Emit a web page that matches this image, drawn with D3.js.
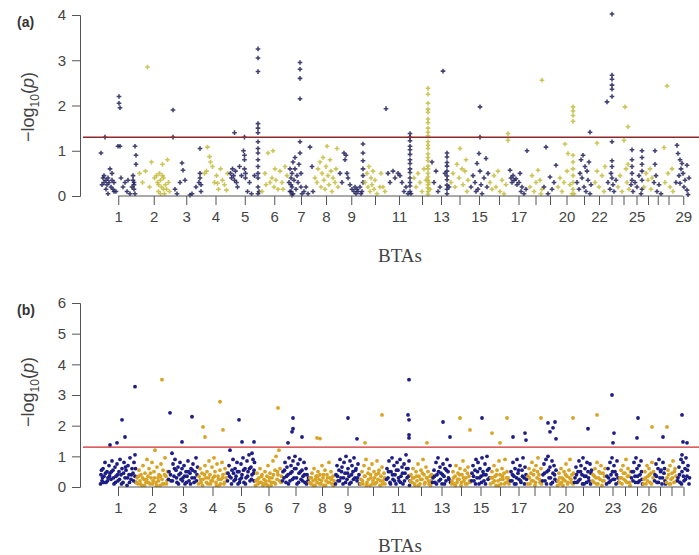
<!DOCTYPE html>
<html>
<head>
<meta charset="utf-8">
<script src="https://cdn.jsdelivr.net/npm/d3@7"></script>
<style>
  body { margin: 0; background: #fff; }
  .tick text { font-family: "Liberation Sans", Arial, sans-serif; font-size: 15px; fill: #444; }
  .tick line { stroke: #555; }
</style>
</head>
<body>
<script>
// chromosome lengths on the plotted position scale (panel a and panel b)
var chromLenA = [36.5,34.5,30.5,28,30.5,28.5,25,25,25.5,22,26,20,18,19,20,20,19,15,14,19,16,14,11,13,13,10,9.5,12,17.5];
var chromLenB = [36,32,30,29,28,27,27,26,25,26,24,22,19,20,19,20,17,15,15,17,18,14,13,12,12,11,12,11,13];

// which BTA numbers get a printed label
var labelsA = [1,2,3,4,5,6,7,8,9,11,13,15,17,20,22,25,29];
var labelsB = [1,2,3,4,5,6,7,8,9,11,13,15,17,20,23,26];

var yTicksA = [0,1,2,3,4];
var yTicksB = [0,1,2,3,4,5,6];
var threshold = 1.3;   // -log10(0.05)

// SNPs per chromosome: position within chromosome, -log10(p)  (pairs)
var snpA = [
  [1,.95, 2,.25, 3,.4, 4,.3, 4,.45, 5,1.3, 6,.35, 6,.15, 7,.25, 8,.05, 8,.4, 9,.3, 10,.6, 11,.2, 12,.35, 12,.5, 13,.15, 14,.3, 14,.1, 16,.1, 18,1.1, 19,2.2, 19,2.05, 20,1.95, 20,1.1, 21,.4, 23,.2, 25,.3, 27,.1, 28,.35, 30,.05, 32,.2, 33,.45, 33,.35, 34,.3, 34,.25, 34,.15, 35,.05, 35,1.1, 36,.9, 36,.7],
  [3,.5, 6,.3, 9,.55, 11,2.85, 13,.2, 15,.75, 18,.4, 20,.45, 21,.3, 22,.1, 22,.25, 23,.5, 24,.35, 24,.05, 25,.2, 26,.7, 26,.45, 27,.4, 27,.15, 28,.05, 29,.25, 30,.15, 31,.8, 32,.3, 33,.1],
  [2,1.9, 2,1.3, 4,.15, 6,.05, 9,.3, 11,.73, 12,.57, 14,.35, 19,.02, 21,.05, 25,.2, 28,.3, 29,1.05, 29,.5, 29,.4, 30,.25, 30,.1],
  [3,.5, 5,.55, 6,1.08, 8,.87, 9,.75, 11,.65, 13,.3, 15,.45, 16,.28, 17,.15, 19,.6, 21,.35, 23,.25, 25,.13, 26,.5],
  [1,.5, 2,.4, 3,.6, 4,.45, 5,1.4, 5,.35, 6,.55, 7,.3, 8,.2, 10,.65, 12,.45, 14,1.0, 15,1.3, 15,.9, 15,.8, 15,.6, 16,.5, 16,.4, 18,.1, 20,.3, 22,.05, 25,.45, 28.5,3.25, 28.5,3.05, 28.5,2.75, 28.5,1.6, 28.5,1.5, 28.5,1.4, 28.5,1.2, 28.5,1.05, 28.5,.95, 28.5,.8, 28.5,.65, 28.5,.5, 28.5,.4, 28.5,.2, 28.5,.05, 29.5,.1],
  [2,.1, 5,.5, 6,.25, 8,.95, 10,.3, 12,.4, 13,1.0, 14,.2, 15,.6, 16,.35, 18,.15, 20,.55, 22,.3, 23,.15, 25,.65, 27,.45],
  [.5,.3, 1.5,.6, 1.5,.1, 2.5,.1, 2.5,.4, 2.5,.25, 3.5,.5, 3.5,.2, 3.5,.02, 4.5,.75, 4.5,.05, 5.5,.35, 6.5,.85, 6.5,.6, 7.5,.15, 8.5,.45, 9.5,.3, 10.5,.7, 11.5,2.95, 11.5,2.8, 11.5,2.6, 11.5,2.15, 11.5,1.2, 11.5,.95, 12.5,.5, 12.5,.2, 13.5,.05, 15.5,.1, 17.5,.2, 19.5,.05, 21.5,1.08, 23.5,.65, 24.5,.1],
  [1.5,.4, 3.5,.3, 4.5,.6, 6.5,.75, 7.5,.2, 8.5,.5, 9.5,.85, 10.5,.35, 11.5,.15, 12.5,.65, 13.5,1.1, 14.5,.45, 15.5,.25, 16.5,.8, 17.5,.55, 18.5,.1, 19.5,.4, 21.5,.3, 22.5,.6, 23.5,1.05, 24.5,.2],
  [1.5,.5, 3.5,.3, 5.5,.95, 6.5,.8, 7.5,.9, 8.5,.5, 9.5,.4, 11.5,.25, 13.5,.15, 15.5,.1, 16.5,.2, 17.5,.05, 18.5,.15, 19.5,.1, 21.5,.2, 22.5,.05, 23.5,.1, 24.5,1.15, 24.5,.95, 24.5,.78, 24.5,.6, 24.5,.45, 24.5,.3],
  [1,.3, 3,.5, 4,.2, 5,.65, 6,.1, 7,.4, 8,.25, 9,.55, 10,.15, 11,.35, 13,.05, 16,.2, 17,.5, 19,.2, 21,.1],
  [0,1.93, 2,.5, 4,.3, 7,.55, 9,.4, 12,.5, 14,.45, 16,.3, 18,.1, 20,.2, 22,.05, 24,1.38, 24,1.3, 24,1.22, 24,1.1, 24,1.02, 24,.92, 24,.8, 24,.72, 24,.6, 24,.52, 24,.4, 24,.3, 24,.22, 24,.1, 25,.05],
  [2,.4, 4,.2, 6,.5, 8,.3, 10,.1, 12,.6, 14,.35, 16,2.38, 16,2.25, 16,2.05, 16,1.92, 16,1.85, 16,1.7, 16,1.62, 16,1.5, 16,1.41, 16,1.33, 16,1.2, 16,1.12, 16,1.05, 16,.93, 16,.85, 16,.78, 16,.66, 16,.6, 16,.5, 16,.42, 16,.35, 16,.25, 16,.18, 16,.1, 16,.04, 17,.3, 18,.15],
  [0,.75, 2,.3, 4,.55, 6,.1, 8,.2, 11,2.76, 13,.5, 15,.95, 15,.86, 15,.74, 15,.66, 15,.55, 15,.44, 15,.36, 15,.24, 15,.15, 15,.05, 17,.2],
  [1,.3, 3,.5, 5,.2, 7,.7, 9,.4, 10,1.05, 12,.6, 13,.25, 15,.55, 16,.8, 17,.1, 18,.35],
  [2,.2, 4,.45, 6,.3, 7,.1, 8,.72, 9,.15, 10,.94, 11,1.97, 11,1.3, 11,.55, 12,.25, 13,.05, 15,.4, 17,.83, 18,.2, 19,.5],
  [1,.3, 3,.15, 5,.45, 7,.2, 9,.55, 11,.1, 13,.35, 15,.05, 17,.25, 19,1.38, 19,1.23],
  [1,.57, 2,.4, 3,.3, 4,.45, 5,.35, 7,.38, 8,.25, 10,.3, 11,.5, 12,.1, 13,.2, 15,.05, 17,.15, 18,1.0],
  [2,.2, 4,.45, 6,.1, 8,.3, 10,.57, 12,.35, 13,.05, 14,2.56, 14,.15],
  [1,.2, 3,1.08, 5,.05, 7,.42, 9,.15, 11,.3, 13,.68],
  [1,.2, 3,.4, 5,.1, 7,.3, 8,1.15, 10,.55, 11,.94, 13,.25, 15,.05, 16,1.97, 16,1.88, 16,1.78, 16,1.65, 16,.9, 16,.75, 16,.6, 16,.45, 16,.3, 16,.15, 17,.05],
  [1,.3, 3,.15, 4,.5, 5,.8, 6,.4, 7,.9, 8,.2, 9,.65, 10,.1, 11,.55, 12,.35, 13,.75, 14,1.41, 14,.05, 15,.25],
  [3,.3, 5,1.17, 5,.55, 7,.2, 10,.45, 12,.1, 13,.65],
  [1,2.08, 2,.3, 4,.15, 5,.5, 6,4.02, 6,2.67, 6,2.58, 6,2.45, 6,2.36, 6,2.2, 6,1.2, 6,.78, 6,.65, 6,.4, 7,.25, 8,.1, 10,.35],
  [1,.2, 3,.45, 5,.1, 7,1.23, 8,1.97, 9,.6, 10,.3, 11,1.53, 11,.7, 12,.15],
  [1,.25, 2,1.02, 2,.8, 2,.65, 2,.5, 2,.35, 3,.1, 5,.3, 7,.2, 9,.45, 11,.05, 12,1.0, 12,.85, 12,.7, 12,.55, 12,.35, 12,.15],
  [1,.2, 3,.5, 5,.35, 7,.6, 8,.15, 9,.4],
  [1,.3, 2,1.0, 2,.7, 3,.45, 4,.1, 6,.25, 8,.05],
  [1.5,1.07, 2.5,.3, 4.5,2.43, 5.5,.5, 7.5,.2, 9.5,.6, 10.5,.1],
  [1.5,.3, 2.5,1.12, 3.5,.94, 4.5,.45, 5.5,.8, 5.5,.28, 6.5,.6, 7.5,.72, 8.5,.5, 9.5,.2, 10.5,.35, 12.5,.68, 12.5,.13, 13.5,.03, 14.5,.4]
];

var snpB = [
  [1,.4, 2,.2, 3,.6, 4,.35, 5,.8, 6,.15, 7,.5, 8,.3, 9,.7, 10,1.37, 10,.45, 11,.25, 12,.85, 13,.55, 14,.1, 15,.65, 16,.35, 17,1.44, 17,.75, 18,.2, 19,.5, 20,.9, 21,.4, 22,2.19, 22,.6, 23,.15, 24,.8, 25,1.63, 25,.3, 26,.55, 27,.05, 28,.7, 29,.4, 30,.95, 31,.25, 32,.6, 33,.45, 34,.8, 35,3.27, 35,.35, 35,1.05, 36,.15,
   .5,.1, 1.5,.55, 2.5,.3, 3.5,.15, 5.5,.45, 7.5,.2, 9.5,.35, 11.5,.5, 13.5,.3, 15.5,.15, 17.5,.4, 19.5,.25, 21.5,.1, 23.5,.45, 25.5,.65, 27.5,.3, 29.5,.15, 31.5,.4, 33.5,.2, 35.5,.6],
  [1,.3, 2,.1, 3,.55, 4,.2, 5,.4, 6,.05, 7,.7, 8,.25, 9,.45, 10,.15, 11,.9, 12,.35, 13,.6, 14,.1, 15,.3, 16,.8, 17,.2, 18,.5, 19,1.2, 20,.15, 21,.65, 22,.3, 23,.4, 24,.05, 25,.75, 26,3.5, 26,.25, 27,.55, 28,.1, 29,.95, 30,.35, 31,.2,
   .5,.15, 2.5,.35, 4.5,.1, 6.5,.3, 8.5,.05, 10.5,.25, 12.5,.15, 14.5,.45, 16.5,.1, 18.5,.3, 20.5,.05, 22.5,.2, 24.5,.35, 26.5,.1, 28.5,.4, 30.5,.1, 31.5,.5],
  [1,.5, 2,2.42, 3,.2, 4,1.1, 5,.75, 6,.35, 7,.9, 8,.55, 9,.15, 10,.65, 11,.4, 12,.8, 13,.25, 14,1.47, 14,.6, 15,.3, 16,.7, 17,.1, 18,.5, 19,.35, 20,.85, 21,.2, 22,.45, 23,.6, 24,2.29, 24,.3, 25,.75, 26,.15, 27,.5, 28,.95, 29,.4,
   .5,.25, 2.5,.4, 4.5,.2, 6.5,.6, 8.5,.3, 10.5,.1, 12.5,.45, 14.5,.2, 16.5,.35, 18.5,.15, 20.5,.5, 22.5,.1, 24.5,.55, 26.5,.3, 28.5,.2, 29.5,.65],
  [1,.35, 2,.6, 3,.15, 4,.45, 5,1.96, 5,.25, 7,1.63, 7,.7, 8,.3, 9,.5, 10,.1, 11,.85, 12,.4, 13,.2, 14,.65, 15,.3, 16,.95, 17,.5, 18,.15, 19,.75, 20,.35, 21,.05, 22,2.78, 22,.55, 23,.25, 24,.8, 25,1.86, 25,.4, 26,.1, 27,.6, 28,.3,
   .5,.1, 2.5,.25, 4.5,.05, 6.5,.4, 8.5,.15, 10.5,.3, 12.5,.1, 14.5,.2, 16.5,.35, 18.5,.05, 20.5,.25, 22.5,.1, 24.5,.3, 26.5,.15, 28.5,.45],
  [1,.45, 2,.7, 3,1.2, 4,.3, 5,.55, 6,.9, 7,.2, 8,.6, 9,.35, 10,.8, 11,.1, 12,2.19, 12,.5, 13,.25, 14,.75, 15,1.47, 15,.4, 16,.95, 17,.15, 18,.6, 19,.3, 20,.85, 21,.5, 22,1.05, 23,.2, 24,.65, 25,1.1, 25,.4, 26,.9, 27,1.47, 27,.55, 27,.2,
   .5,.2, 2.5,.35, 4.5,.1, 6.5,.45, 8.5,.25, 10.5,.5, 12.5,.15, 14.5,.3, 16.5,.55, 18.5,.1, 20.5,.35, 22.5,.6, 24.5,.25, 26.5,.45, 27.5,.8],
  [1,.2, 2,.45, 3,.1, 4,.3, 5,.6, 6,.15, 7,.4, 8,.05, 9,.25, 10,.5, 11,.1, 12,.35, 13,.7, 14,.2, 15,.45, 16,.05, 17,.3, 18,.85, 19,.15, 20,.55, 21,1.0, 22,.25, 23,2.58, 23,.4, 24,1.2, 25,.6, 26,.15,
   .5,.05, 2.5,.25, 4.5,.15, 6.5,.35, 8.5,.1, 10.5,.2, 12.5,.05, 14.5,.3, 16.5,.15, 18.5,.4, 20.5,.1, 22.5,.5, 24.5,.2, 26.5,.35],
  [1,.5, 2,.3, 3,.8, 4,.15, 5,.65, 6,1.44, 6,.4, 7,.95, 8,.2, 9,.7, 10,1.8, 10,.5, 11,2.25, 11,1.9, 11,.85, 12,.3, 13,1.0, 14,.6, 15,.1, 16,.75, 17,.45, 18,.9, 19,.25, 20,1.63, 20,.55, 21,.35, 22,.8, 23,.15, 24,.6, 25,.4, 26,.2,
   .5,.2, 2.5,.55, 4.5,.35, 6.5,.1, 8.5,.45, 10.5,.25, 12.5,.6, 14.5,.3, 16.5,.15, 18.5,.5, 20.5,.2, 22.5,.4, 24.5,.1, 26.5,.3],
  [1,.3, 2,.1, 3,.45, 4,.2, 5,.6, 6,.05, 7,.35, 8,1.6, 8,.15, 9,.5, 10,.25, 11,1.58, 11,.4, 12,.1, 13,.7, 14,.3, 15,.05, 16,.55, 17,.2, 18,.4, 19,.15, 20,.8, 21,.3, 22,.5, 23,.1, 24,.35, 25,.2,
   .5,.15, 2.5,.3, 4.5,.05, 6.5,.25, 8.5,.35, 10.5,.1, 12.5,.2, 14.5,.4, 16.5,.05, 18.5,.3, 20.5,.15, 22.5,.25, 24.5,.05],
  [1,.4, 2,.7, 3,.2, 4,.55, 5,.9, 6,.3, 7,.65, 8,.1, 9,.8, 10,.45, 11,1.0, 12,.25, 13,2.25, 13,.6, 14,.35, 15,.85, 16,.15, 17,.7, 18,.5, 19,.95, 20,.3, 21,.6, 22,1.57, 22,.2, 23,.75, 24,.4,
   .5,.1, 2.5,.35, 4.5,.2, 6.5,.5, 8.5,.3, 10.5,.15, 12.5,.45, 14.5,.1, 16.5,.4, 18.5,.25, 20.5,.55, 22.5,.3, 24.5,.1],
  [1,.25, 2,.5, 3,.1, 4,.7, 5,1.44, 5,.35, 6,.9, 7,.15, 8,.45, 9,.6, 10,.05, 11,.3, 12,.75, 13,.2, 14,.5, 15,.1, 16,.4, 17,.85, 18,.25, 19,.55, 20,.05, 21,.35, 22,2.35, 22,.65, 23,.2, 24,.45, 25,.1,
   .5,.1, 2.5,.2, 4.5,.35, 6.5,.05, 8.5,.25, 10.5,.4, 12.5,.1, 14.5,.3, 16.5,.15, 18.5,.45, 20.5,.2, 22.5,.1, 24.5,.3],
  [1,.6, 2,.3, 3,.85, 4,.15, 5,.5, 6,.95, 7,.25, 8,.7, 9,.4, 10,.1, 11,.8, 12,.55, 13,.2, 14,.9, 15,.35, 16,.65, 17,.1, 18,.75, 19,.45, 20,1.05, 21,.3, 22,2.35, 22,.6, 23,3.5, 23,2.19, 23,1.7, 23,1.6, 23,.85, 24,.2,
   .5,.25, 2.5,.5, 4.5,.1, 6.5,.4, 8.5,.2, 10.5,.55, 12.5,.3, 14.5,.15, 16.5,.45, 18.5,.2, 20.5,.6, 22.5,.35, 23.5,.05],
  [1,.4, 2,.15, 3,.6, 4,.3, 5,.05, 6,.5, 7,.2, 8,.75, 9,.35, 10,.1, 11,.55, 12,.25, 13,.9, 14,.4, 15,.15, 16,.65, 17,1.44, 17,.3, 18,.5, 19,.1, 20,.35, 21,.2,
   .5,.2, 2.5,.3, 4.5,.1, 6.5,.35, 8.5,.05, 10.5,.25, 12.5,.45, 14.5,.1, 16.5,.3, 18.5,.2, 20.5,.05, 21.5,.4],
  [1,.3, 2,.55, 3,.15, 4,.8, 5,.4, 6,.95, 7,.2, 8,.65, 9,.45, 10,.1, 11,2.12, 11,.75, 12,.35, 13,.6, 14,.2, 15,.9, 16,.5, 17,.25, 18,1.63, 18,.7,
   .5,.15, 2.5,.35, 4.5,.1, 6.5,.5, 8.5,.25, 10.5,.4, 12.5,.1, 14.5,.55, 16.5,.3, 18.5,.15],
  [1,.2, 2,.5, 3,.1, 4,.35, 5,.7, 6,.15, 7,.45, 8,.25, 9,2.25, 9,.6, 10,.05, 11,.4, 12,.85, 13,.2, 14,.55, 15,.3, 16,.1, 17,.65, 18,.35, 19,1.86, 19,.15,
   .5,.1, 2.5,.3, 4.5,.05, 6.5,.25, 8.5,.4, 10.5,.15, 12.5,.3, 14.5,.1, 16.5,.45, 18.5,.2],
  [1,.45, 2,.7, 3,.2, 4,.55, 5,.9, 6,.3, 7,.8, 8,.1, 9,.6, 10,.35, 11,2.25, 11,.95, 12,.5, 13,.2, 14,.75, 15,.4, 16,1.0, 17,.25, 18,.6,
   .5,.2, 2.5,.35, 4.5,.1, 6.5,.5, 8.5,.3, 10.5,.15, 12.5,.4, 14.5,.1, 16.5,.55, 18.5,.3],
  [1,.3, 2,1.76, 2,.5, 3,.15, 4,.7, 5,.35, 6,.05, 7,.55, 8,.2, 9,.85, 10,1.44, 10,.4, 11,.1, 12,.6, 13,.25, 14,.45, 15,.9, 16,.15, 17,2.25, 17,.5, 18,.3, 19,.1,
   .5,.1, 2.5,.3, 4.5,.2, 6.5,.4, 8.5,.05, 10.5,.25, 12.5,.35, 14.5,.1, 16.5,.3, 18.5,.2],
  [1,.5, 2,.2, 3,1.63, 3,.8, 4,.35, 5,.6, 6,.1, 7,.9, 8,.45, 9,.25, 10,.7, 11,.15, 12,.55, 13,.95, 14,.3, 15,1.76, 15,.65, 16,1.53, 16,.4,
   .5,.2, 2.5,.4, 4.5,.1, 6.5,.3, 8.5,.55, 10.5,.2, 12.5,.35, 14.5,.1, 16.5,.25],
  [1,.35, 2,.6, 3,.1, 4,.45, 5,.8, 6,.2, 7,.55, 8,.05, 9,.7, 10,.3, 11,.95, 12,.4, 13,.15, 14,2.25, 14,.6,
   .5,.1, 2.5,.3, 4.5,.2, 6.5,.4, 8.5,.15, 10.5,.5, 12.5,.25, 14.5,.1],
  [1,.4, 2,.75, 3,.2, 4,.9, 5,.5, 6,2.09, 6,1.0, 7,.3, 8,1.8, 8,.65, 9,.1, 10,.85, 11,1.93, 11,.45, 12,.7, 13,2.12, 13,.25, 14,1.57, 14,.55,
   .5,.2, 2.5,.45, 4.5,.1, 6.5,.55, 8.5,.3, 10.5,.15, 12.5,.4, 14.5,.2],
  [1,.2, 2,.45, 3,.1, 4,.6, 5,.3, 6,.05, 7,.5, 8,.2, 9,.75, 10,.35, 11,.15, 12,.55, 13,.9, 14,.25, 15,.4, 16,2.25, 16,.1,
   .5,.05, 2.5,.3, 4.5,.15, 6.5,.25, 8.5,.4, 10.5,.1, 12.5,.3, 14.5,.15, 16.5,.45],
  [1,.3, 2,.65, 3,.15, 4,.5, 5,.85, 6,.25, 7,.7, 8,.4, 9,.95, 10,.1, 11,.6, 12,.35, 13,.8, 14,1.9, 14,.5, 15,.2, 16,.75, 17,.45,
   .5,.15, 2.5,.4, 4.5,.2, 6.5,.5, 8.5,.1, 10.5,.35, 12.5,.15, 14.5,.3, 16.5,.1, 17.5,.55],
  [1,.4, 2,.15, 3,.6, 4,.3, 5,2.35, 5,.8, 6,.1, 7,.5, 8,.25, 9,.7, 10,.05, 11,.45, 12,.2, 13,.6,
   .5,.2, 2.5,.35, 4.5,.1, 6.5,.3, 8.5,.45, 10.5,.2, 12.5,.35],
  [1,.35, 2,.6, 3,.15, 4,.8, 5,.4, 6,3.0, 6,.95, 7,1.44, 7,.25, 8,1.76, 8,.7, 9,.5, 10,.1, 11,.85, 12,.3,
   .5,.1, 2.5,.3, 4.5,.2, 6.5,.5, 8.5,.25, 10.5,.4, 12.5,.15],
  [1,.3, 2,.55, 3,.1, 4,.7, 5,.25, 6,.45, 7,.9, 8,.15, 9,.6, 10,.35, 11,.05,
   .5,.15, 2.5,.3, 4.5,.45, 6.5,.2, 8.5,.35, 10.5,.15, 11.5,.5],
  [1,.5, 2,.2, 3,.8, 4,.35, 5,.95, 6,1.6, 6,.6, 7,2.25, 7,.15, 8,.7, 9,.4, 10,.85, 11,.25,
   .5,.3, 2.5,.5, 4.5,.15, 6.5,.35, 8.5,.2, 10.5,.5, 11.5,.1],
  [1,.25, 2,.5, 3,.1, 4,.7, 5,.35, 6,.6, 7,.15, 8,.45, 9,1.96, 9,.8, 10,.3,
   .5,.1, 2.5,.3, 4.5,.2, 6.5,.4, 8.5,.1, 10.5,.5],
  [1,.4, 2,.75, 3,.15, 4,.6, 5,.9, 6,.3, 7,.55, 8,.1, 9,1.63, 9,.8, 10,.45, 11,.2,
   .5,.2, 2.5,.35, 4.5,.15, 6.5,.5, 8.5,.3, 10.5,.6, 11.5,.1],
  [1,1.96, 1,.3, 2,.55, 3,.1, 4,.7, 5,.25, 6,.45, 7,.85, 8,.15, 9,.6, 10,.35,
   .5,.15, 2.5,.4, 4.5,.1, 6.5,.3, 8.5,.5, 10.5,.2],
  [1,.3, 2,.65, 3,.15, 4,.9, 5,2.35, 5,1.05, 5,.5, 6,1.47, 6,.8, 7,.2, 8,.6, 9,.95, 10,1.44, 10,.35, 11,.7, 12,.1,
   .5,.2, 2.5,.4, 4.5,.1, 6.5,.35, 8.5,.25, 10.5,.55, 12.5,.3]
];

var width = 699, height = 555;
var svg = d3.select("body").append("svg")
    .attr("width", width)
    .attr("height", height);

// shared genome position scale
var x = d3.scaleLinear().domain([0, 600]).range([100, 700]);

function drawPanel(o) {
  var y = d3.scaleLinear().domain([0, o.ymax]).range([o.yBottom, o.yTop]);
  var ends = Array.from(d3.cumsum(o.lens));
  var starts = ends.map(function (e, i) { return e - o.lens[i]; });
  var mids = starts.map(function (s, i) { return s + o.lens[i] / 2; });

  var pts = [];
  o.snps.forEach(function (arr, i) {
    for (var k = 0; k < arr.length; k += 2) {
      pts.push({ chr: i + 1, pos: starts[i] + arr[k], p: arr[k + 1] });
    }
  });

  var g = svg.append("g");

  // points
  if (o.symbol) {
    g.selectAll("path.snp").data(pts).enter().append("path")
      .attr("class", "snp")
      .attr("transform", function (d) { return "translate(" + x(d.pos) + "," + y(d.p) + ")"; })
      .attr("d", d3.symbol().type(d3.symbolCross).size(o.symbol))
      .style("fill", function (d) { return d.chr % 2 ? o.c1 : o.c2; })
      .style("opacity", 0.85);
  } else {
    g.selectAll("circle.snp").data(pts).enter().append("circle")
      .attr("class", "snp")
      .attr("cx", function (d) { return x(d.pos); })
      .attr("cy", function (d) { return y(d.p); })
      .attr("r", o.r)
      .style("fill", function (d) { return d.chr % 2 ? o.c1 : o.c2; });
  }

  // significance line
  g.append("line")
    .attr("x1", 83).attr("x2", width)
    .attr("y1", y(threshold)).attr("y2", y(threshold))
    .style("stroke", o.lineColor).style("stroke-width", 1.4);

  // y axis
  var yAxis = g.append("g")
    .attr("transform", "translate(80,0)")
    .call(d3.axisLeft(y).tickValues(o.yTicks).tickFormat(d3.format("d"))
      .tickSizeOuter(0).tickSize(8).tickPadding(6));
  yAxis.select(".domain").style("stroke", "#555");

  // x axis: ticks at chromosome centres, line from first to last tick
  var xAxis = g.append("g")
    .attr("transform", "translate(0," + o.yBottom + ")")
    .call(d3.axisBottom(x).tickValues(mids).tickSize(9).tickPadding(6)
      .tickFormat(function (d, i) { return o.labels.indexOf(i + 1) >= 0 ? (i + 1) : ""; }));
  xAxis.select(".domain").remove();
  xAxis.append("line")
    .attr("x1", x(mids[0])).attr("x2", x(mids[mids.length - 1]))
    .style("stroke", "#555");

  // titles
  g.append("text")
    .attr("x", 400).attr("y", o.btasY)
    .attr("text-anchor", "middle")
    .style("font-family", "'Liberation Serif', 'Times New Roman', serif")
    .style("font-size", "19px").style("fill", "#444")
    .text("BTAs");

  g.append("text")
    .attr("x", 17).attr("y", o.yTop + 12)
    .style("font-family", "'Liberation Sans', Arial, sans-serif")
    .style("font-size", "14px").style("font-weight", "bold").style("fill", "#333")
    .text(o.tag);

  var yt = g.append("text")
    .attr("transform", "translate(34," + o.titleY + ") rotate(-90)")
    .attr("text-anchor", "middle")
    .style("font-family", "'Liberation Sans', Arial, sans-serif")
    .style("font-size", "18px").style("fill", "#444");
  yt.append("tspan").text("\u2212log");
  yt.append("tspan").attr("dy", 5).style("font-size", "12px").text("10");
  yt.append("tspan").attr("dy", -5).text("(");
  yt.append("tspan").style("font-style", "italic").text("p");
  yt.append("tspan").text(")");
}

drawPanel({
  lens: chromLenA, snps: snpA, ymax: 4, yTicks: yTicksA,
  yBottom: 196, yTop: 15, labels: labelsA,
  c1: "#1f1f5c", c2: "#c4bb3a", lineColor: "#8e2a2a",
  symbol: 12, tag: "(a)", titleY: 107, btasY: 262
});

drawPanel({
  lens: chromLenB, snps: snpB, ymax: 6, yTicks: yTicksB,
  yBottom: 487, yTop: 303, labels: labelsB,
  c1: "#1d1d86", c2: "#d9a323", lineColor: "#d42a2a",
  r: 1.9, tag: "(b)", titleY: 392, btasY: 552
});
</script>
</body>
</html>
